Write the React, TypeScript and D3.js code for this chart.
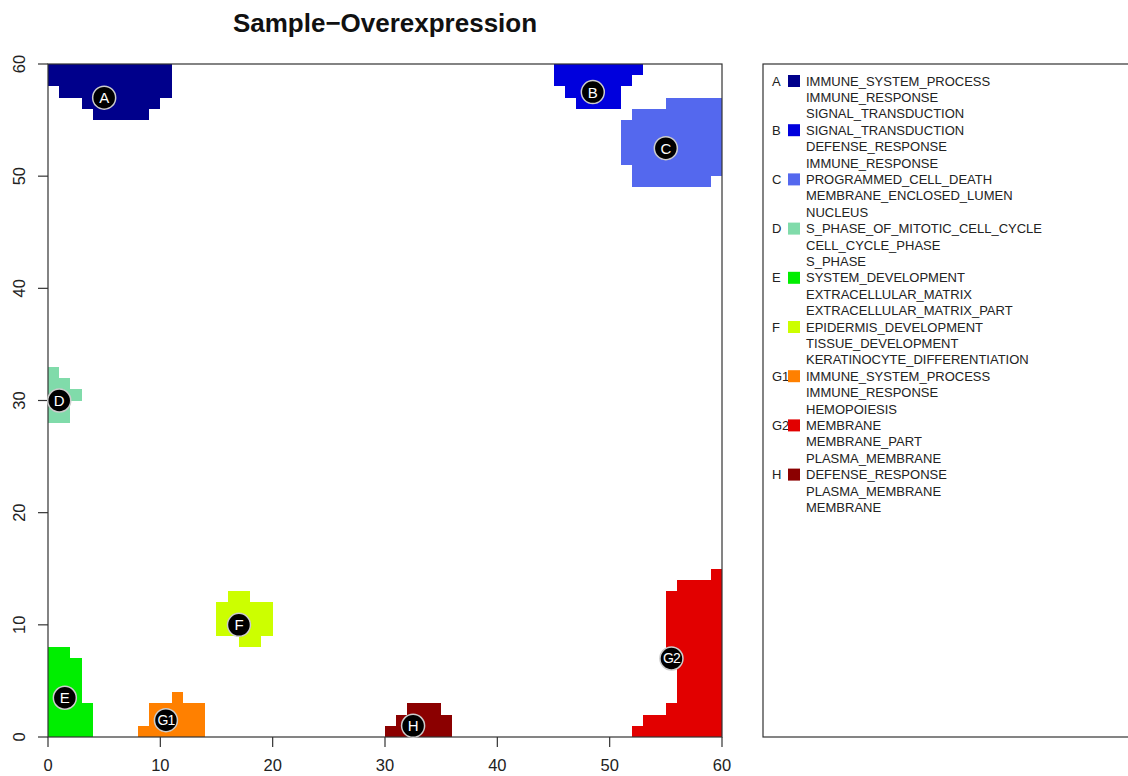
import React from "react";
import * as d3 from "d3";

const clusterIds = ["A", "B", "C", "D", "E", "F", "G1", "G2", "H"];
const clusterColors = ["#00008B", "#0000DD", "#5468EE", "#80DBAA", "#00EE00", "#CCFF00", "#FF8000", "#E20000", "#8B0000"];
const clusterTerms = [
  ["IMMUNE_SYSTEM_PROCESS", "IMMUNE_RESPONSE", "SIGNAL_TRANSDUCTION"],
  ["SIGNAL_TRANSDUCTION", "DEFENSE_RESPONSE", "IMMUNE_RESPONSE"],
  ["PROGRAMMED_CELL_DEATH", "MEMBRANE_ENCLOSED_LUMEN", "NUCLEUS"],
  ["S_PHASE_OF_MITOTIC_CELL_CYCLE", "CELL_CYCLE_PHASE", "S_PHASE"],
  ["SYSTEM_DEVELOPMENT", "EXTRACELLULAR_MATRIX", "EXTRACELLULAR_MATRIX_PART"],
  ["EPIDERMIS_DEVELOPMENT", "TISSUE_DEVELOPMENT", "KERATINOCYTE_DIFFERENTIATION"],
  ["IMMUNE_SYSTEM_PROCESS", "IMMUNE_RESPONSE", "HEMOPOIESIS"],
  ["MEMBRANE", "MEMBRANE_PART", "PLASMA_MEMBRANE"],
  ["DEFENSE_RESPONSE", "PLASMA_MEMBRANE", "MEMBRANE"],
];
// label positions [x, y]
const labelX = [5, 48.5, 55, 1, 1.5, 17, 10.5, 55.5, 32.5];
const labelY = [57, 57.5, 52.5, 30, 3.5, 10, 1.5, 7, 1];

// cell spans per cluster: [yBottom, yTop, xStart, xEnd]
const cellsA = [[58, 60, 0, 11], [57, 58, 1, 11], [56, 57, 3, 10], [55, 56, 4, 9]];
const cellsB = [[59, 60, 45, 53], [58, 59, 45, 52], [57, 58, 46, 51], [56, 57, 47, 51]];
const cellsC = [[56, 57, 55, 60], [55, 56, 52, 60], [51, 55, 51, 60], [50, 51, 52, 60], [49, 50, 52, 59]];
const cellsD = [[32, 33, 0, 1], [31, 32, 0, 2], [30, 31, 0, 3], [28, 30, 0, 2]];
const cellsE = [[7, 8, 0, 2], [3, 7, 0, 3], [0, 3, 0, 4]];
const cellsF = [[12, 13, 16, 18], [9, 12, 15, 20], [8, 9, 17, 19]];
const cellsG1 = [[3, 4, 11, 12], [1, 3, 9, 14], [0, 1, 8, 14]];
const cellsG2 = [[14, 15, 59, 60], [13, 14, 56, 60], [7, 13, 55, 60], [3, 7, 56, 60], [2, 3, 55, 60], [1, 2, 53, 60], [0, 1, 52, 60]];
const cellsH = [[2, 3, 32, 35], [1, 2, 31, 36], [0, 1, 30, 36]];
const clusterCells = [cellsA, cellsB, cellsC, cellsD, cellsE, cellsF, cellsG1, cellsG2, cellsH];

const xTicks = [0, 10, 20, 30, 40, 50, 60];
const yTicks = [0, 10, 20, 30, 40, 50, 60];
const title = "Sample\u2212Overexpression";

const FONT = "'Liberation Sans', Arial, Helvetica, sans-serif";

export default function App() {
  const x = d3.scaleLinear().domain([0, 60]).range([48, 722]);
  const y = d3.scaleLinear().domain([0, 60]).range([737, 64]);
  const lineH = 16.4;
  const legTop = 81;
  let line = 0;
  const legendItems: JSX.Element[] = [];
  clusterIds.forEach((id, i) => {
    const y0 = legTop + line * lineH;
    legendItems.push(
      <g key={id}>
        <text x={772} y={y0} dominantBaseline="central" fontSize={13} fill="#222">{id}</text>
        <rect x={788} y={y0 - 6} width={12} height={12} fill={clusterColors[i]} />
        {clusterTerms[i].map((t, j) => (
          <text key={j} x={806} y={y0 + j * lineH} dominantBaseline="central" fontSize={13} fill="#222">{t}</text>
        ))}
      </g>
    );
    line += clusterTerms[i].length;
  });

  const clusterPath = (cells: number[][]) => {
    const p = d3.path();
    cells.forEach((c) => {
      p.rect(x(c[2]), y(c[1]), x(c[3]) - x(c[2]), y(c[0]) - y(c[1]));
    });
    return p.toString();
  };

  return (
    <svg width={1128} height={776} style={{ position: "absolute", left: 0, top: 0, background: "#fff" }} fontFamily={FONT}>
      <text x={385} y={32} textAnchor="middle" fontSize={26} fontWeight="bold" fill="#111">{title}</text>
      {clusterCells.map((cells, i) => (
        <path key={i} d={clusterPath(cells)} fill={clusterColors[i]} shapeRendering="crispEdges" />
      ))}
      <rect x={48} y={64} width={674} height={673} fill="none" stroke="#333" strokeWidth={1.2} />
      {xTicks.map((t) => (
        <g key={t}>
          <line x1={x(t)} x2={x(t)} y1={737} y2={747} stroke="#333" strokeWidth={1.2} />
          <text x={x(t)} y={771} textAnchor="middle" fontSize={16.5} fill="#222">{t}</text>
        </g>
      ))}
      {yTicks.map((t) => (
        <g key={t}>
          <line x1={38} x2={48} y1={y(t)} y2={y(t)} stroke="#333" strokeWidth={1.2} />
          <text transform={`translate(25,${y(t)}) rotate(-90)`} textAnchor="middle" fontSize={16.5} fill="#222">{t}</text>
        </g>
      ))}
      {clusterIds.map((id, i) => (
        <g key={id}>
          <circle cx={x(labelX[i])} cy={y(labelY[i])} r={11.5} fill="#000" stroke="#ccc" strokeWidth={1.5} />
          <text x={x(labelX[i])} y={y(labelY[i])} textAnchor="middle" dominantBaseline="central"
            fontSize={id.length > 1 ? 14 : 15} fill="#fff" letterSpacing={id.length > 1 ? -1 : 0}>{id}</text>
        </g>
      ))}
      <rect x={763} y={64} width={380} height={673} fill="none" stroke="#333" strokeWidth={1.2} />
      {legendItems}
    </svg>
  );
}
